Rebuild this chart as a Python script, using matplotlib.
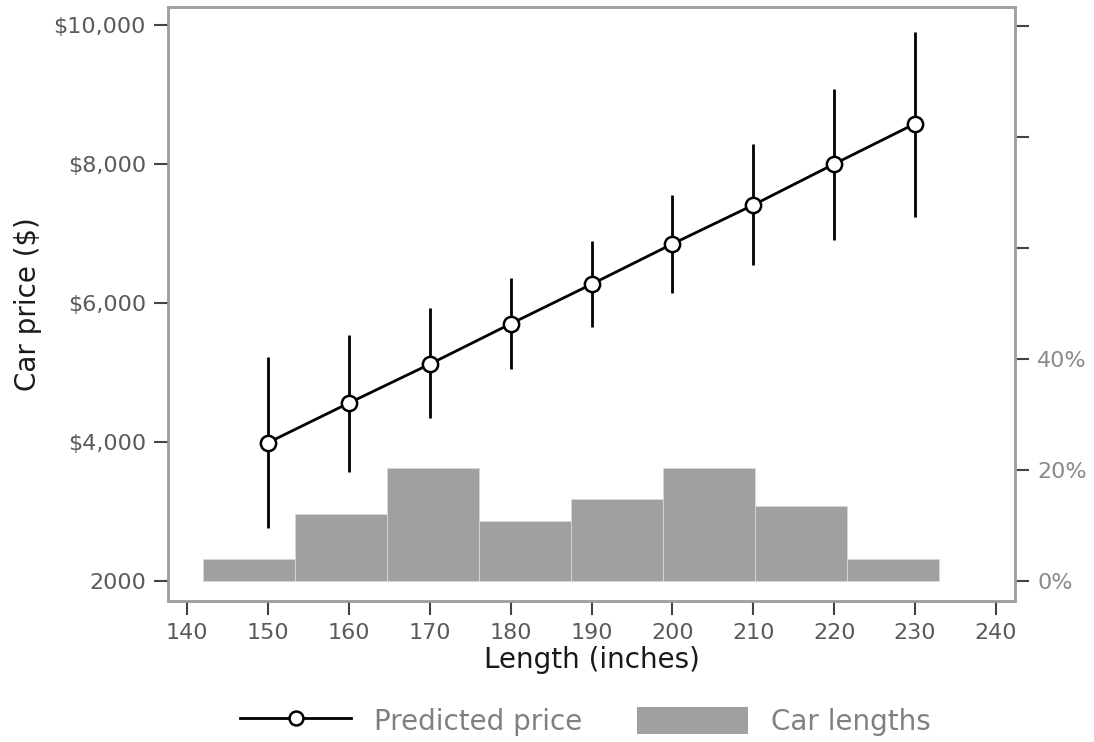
import matplotlib.pyplot as plt
from matplotlib.patches import Patch
from matplotlib.lines import Line2D
import numpy as np

plt.rcParams['font.family'] = ['DejaVu Sans']

# predicted price by length
lengths = [150, 160, 170, 180, 190, 200, 210, 220, 230]
price = [3990, 4560, 5120, 5700, 6270, 6850, 7410, 8000, 8580]
ci_low = [2760, 3570, 4345, 5050, 5655, 6145, 6550, 6905, 7235]
ci_high = [5225, 5540, 5930, 6360, 6890, 7555, 8290, 9080, 9900]

# histogram of car lengths (counts per bin)
bin_edges = [142, 153.375, 164.75, 176.125, 187.5, 198.875, 210.25, 221.625, 233]
counts = [3, 9, 15, 8, 11, 15, 10, 3]

tick_col = '#5a5a5a'
spine_col = '#a0a0a0'

fig = plt.figure(figsize=(10.94, 7.42), dpi=100)
ax = fig.add_axes([0.1536, 0.19, 0.7742, 0.8006])
ax2 = ax.twinx()

# bars on the right axis, in percent
pct = np.array(counts) / sum(counts) * 100
widths = np.diff(bin_edges)
ax2.bar(bin_edges[:-1], pct, width=widths, align='edge', color='#a0a0a0',
        edgecolor='#d8d8d8', linewidth=0.6)
ax2.set_ylim(-3.6, 103.4)
ax2.set_yticks([0, 20, 40, 60, 80, 100])
ax2.set_yticklabels(['0%', '20%', '40%', '', '', ''])

# line on top
ax.set_zorder(ax2.get_zorder() + 1)
ax.patch.set_visible(False)
yerr = [np.array(price) - np.array(ci_low), np.array(ci_high) - np.array(price)]
ax.errorbar(lengths, price, yerr=yerr, fmt='none', ecolor='black', elinewidth=2, capsize=0)
ax.plot(lengths, price, color='black', lw=2, marker='o', markersize=11,
        markerfacecolor='white', markeredgecolor='black', markeredgewidth=1.8)

ax.set_xlim(137.65, 242.35)
ax.set_ylim(1712, 10259)
ax.set_xticks(range(140, 250, 10))
ax.set_yticks([2000, 4000, 6000, 8000, 10000])
ax.set_yticklabels(['2000', '$4,000', '$6,000', '$8,000', '$10,000'])

for a in (ax, ax2):
    for s in a.spines.values():
        s.set_color(spine_col)
        s.set_linewidth(1.8)
    a.tick_params(length=10, width=1.5, color='#444444', labelcolor=tick_col,
                  labelsize=16, pad=6)
ax2.tick_params(labelcolor='#8a8a8a')

ax.set_xlabel('Length (inches)', fontsize=20, color='#1a1a1a', labelpad=2)
ax.set_ylabel('Car price ($)', fontsize=20, color='#1a1a1a', labelpad=8)

handles = [Line2D([0], [0], color='black', lw=2, marker='o', markersize=10,
                  markerfacecolor='white', markeredgecolor='black', markeredgewidth=1.8),
           Patch(facecolor='#a0a0a0', edgecolor='none')]
fig.legend(handles, ['Predicted price', 'Car lengths'], loc='center', ncol=2,
           bbox_to_anchor=(0.535, 0.028), frameon=False, fontsize=20,
           handlelength=4, handleheight=1.1, handletextpad=0.8, columnspacing=2.0,
           labelcolor='#808080')

fig.savefig('out.png', dpi=100)
